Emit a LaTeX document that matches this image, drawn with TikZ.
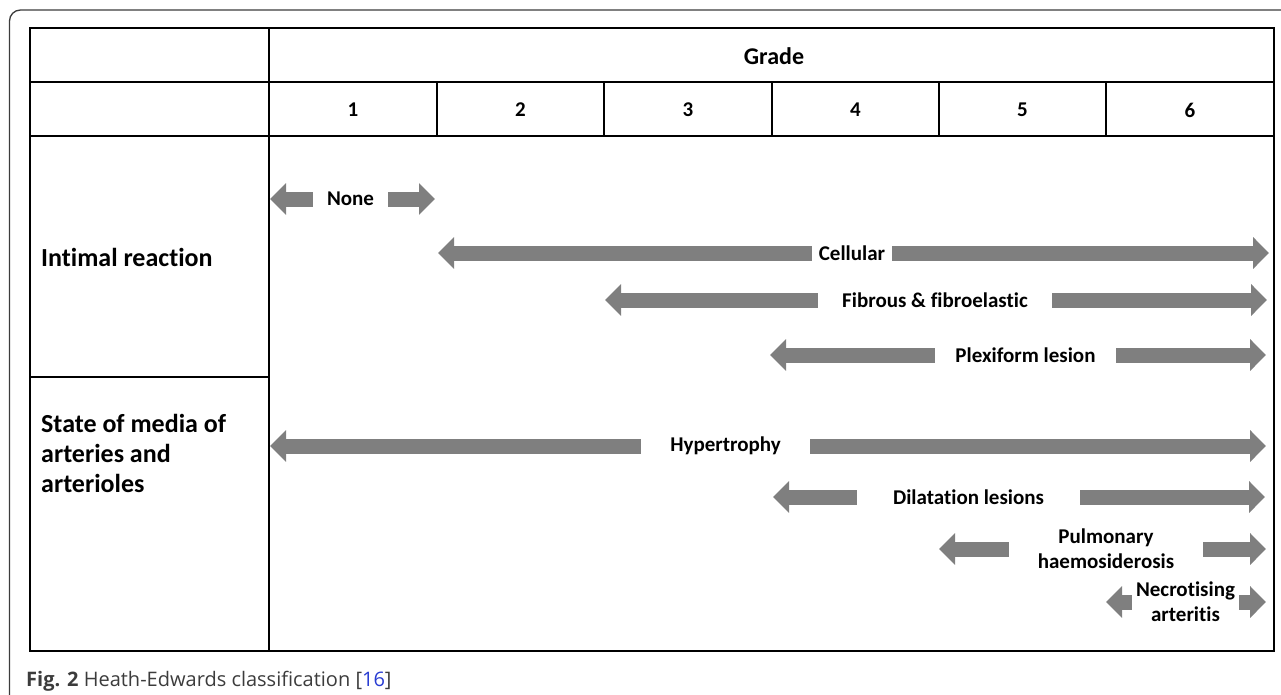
\documentclass[tikz,border=0pt]{standalone}
\usepackage{fontspec}
\setmainfont{Carlito}[Ligatures=NoCommon]
\newfontfamily\capfont{Open Sans}
\usetikzlibrary{arrows.meta,positioning}
\definecolor{arrowgray}{RGB}{127,127,127}
\definecolor{framegray}{RGB}{60,60,60}
\definecolor{refblue}{RGB}{40,60,210}

\begin{document}
\begin{tikzpicture}[x=1pt,y=-1pt,
      grid/.style={line width=1.8pt,black},
      lab/.style={font=\bfseries\fontsize{21}{25}\selectfont,inner sep=0pt,text=black},
      rowlab/.style={font=\bfseries\fontsize{26}{30}\selectfont,inner sep=0pt,anchor=base west,align=left},
      band/.style={line width=15pt,arrowgray,-{Triangle[length=16pt,width=31pt]}}]
    \useasboundingbox (0,0) rectangle (1281,695);
    % outer frame
    \draw[framegray,line width=1.3pt,rounded corners=11pt] (9.5,700) -- (9.5,10) -- (1290,10);
    % table
    \draw[grid] (30,28) rectangle (1274,651);
    \draw[grid] (30,82) -- (1274,82);
    \draw[grid] (30,136) -- (1274,136);
    \draw[grid] (30,377) -- (269,377);
    \draw[grid] (269,28) -- (269,651);
    \draw[grid] (437,82) -- (437,136);
    \draw[grid] (604,82) -- (604,136);
    \draw[grid] (772,82) -- (772,136);
    \draw[grid] (939,82) -- (939,136);
    \draw[grid] (1106,82) -- (1106,136);
    % headers
    \node[lab,font=\bfseries\fontsize{24}{28}\selectfont] (grade) at (774,56) {Grade};
    \node[lab] (g1) at (353,110) {1};
    \node[lab] (g2) at (520.5,110) {2};
    \node[lab] (g3) at (688,110) {3};
    \node[lab] (g4) at (855.5,110) {4};
    \node[lab] (g5) at (1022.5,110) {5};
    \node[lab] (g6) at (1190,110) {6};
    \node[rowlab] (intimal) at (41,266) {Intimal reaction};
    \node[rowlab] (media) at (41,492) {State of media of\\arteries and\\arterioles};
    % ranges
    \node[lab,minimum width=75pt] (none) at (350.5,199) {None};
    \coordinate (noneL) at (270,199);
    \coordinate (noneR) at (435,199);
    \draw[band] (none.west) -- (noneL);
    \draw[band] (none.east) -- (noneR);
    \node[lab,minimum width=80pt] (cellular) at (852,253) {Cellular};
    \coordinate (cellularL) at (438,253);
    \coordinate (cellularR) at (1269,253);
    \draw[band] (cellular.west) -- (cellularL);
    \draw[band] (cellular.east) -- (cellularR);
    \node[lab,minimum width=234pt] (fibrous) at (935,300) {Fibrous \& fibroelastic};
    \coordinate (fibrousL) at (605,300);
    \coordinate (fibrousR) at (1267,300);
    \draw[band] (fibrous.west) -- (fibrousL);
    \draw[band] (fibrous.east) -- (fibrousR);
    \node[lab,minimum width=181pt] (plexiform) at (1025.5,355) {Plexiform lesion};
    \coordinate (plexiformL) at (770,355);
    \coordinate (plexiformR) at (1266,355);
    \draw[band] (plexiform.west) -- (plexiformL);
    \draw[band] (plexiform.east) -- (plexiformR);
    \node[lab,minimum width=169pt] (hyper) at (725.5,446) {Hypertrophy};
    \coordinate (hyperL) at (270,446);
    \coordinate (hyperR) at (1266,446);
    \draw[band] (hyper.west) -- (hyperL);
    \draw[band] (hyper.east) -- (hyperR);
    \node[lab,minimum width=223pt] (dilat) at (968.5,497) {Dilatation lesions};
    \coordinate (dilatL) at (773,497);
    \coordinate (dilatR) at (1265,497);
    \draw[band] (dilat.west) -- (dilatL);
    \draw[band] (dilat.east) -- (dilatR);
    \node[lab,minimum width=194pt,align=center] (pulm) at (1106,549) {Pulmonary\\haemosiderosis};
    \coordinate (pulmL) at (939,549);
    \coordinate (pulmR) at (1266,549);
    \draw[band] (pulm.west) -- (pulmL);
    \draw[band] (pulm.east) -- (pulmR);
    \node[lab,minimum width=107pt,align=center] (necro) at (1185.5,602) {Necrotising\\arteritis};
    \coordinate (necroL) at (1106,602);
    \coordinate (necroR) at (1266,602);
    \draw[band] (necro.west) -- (necroL);
    \draw[band] (necro.east) -- (necroR);
    % caption
    \node[anchor=base west,inner sep=0pt,font=\capfont\fontsize{20}{24}\selectfont,text=framegray] (caption) at (26,686)
      {\textbf{Fig. 2} Heath-Edwards classification [\textcolor{refblue}{16}]};
  \end{tikzpicture}
\end{document}
